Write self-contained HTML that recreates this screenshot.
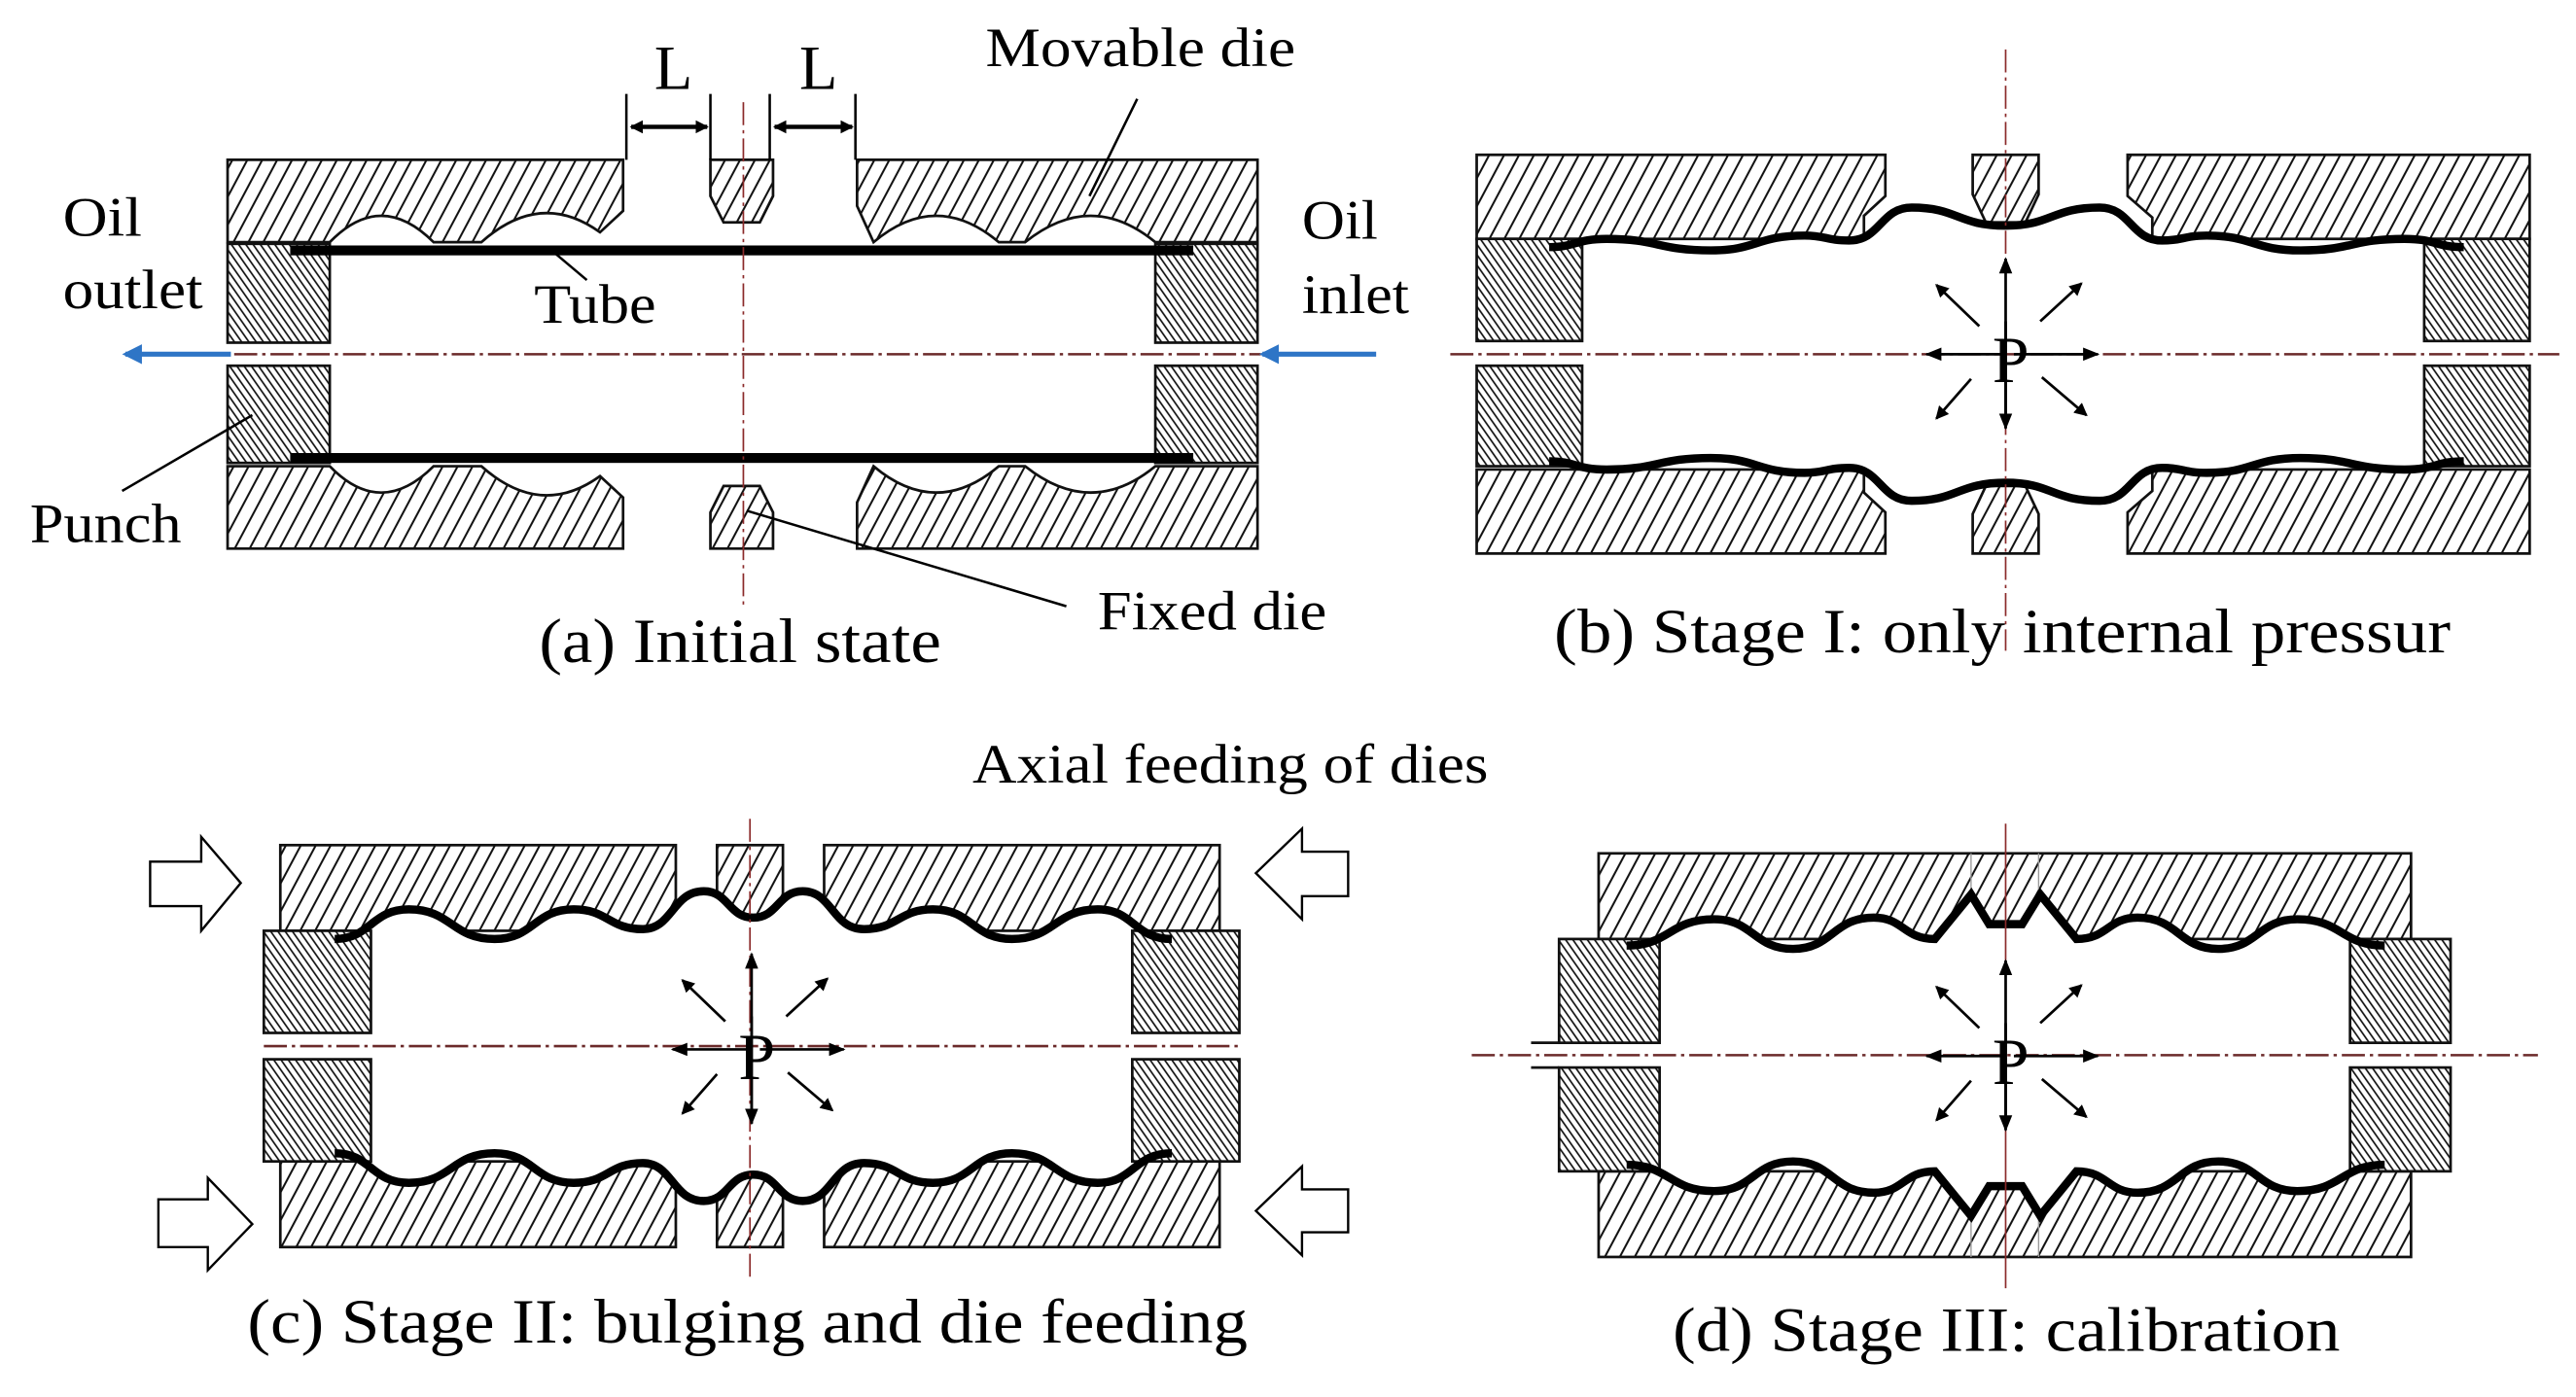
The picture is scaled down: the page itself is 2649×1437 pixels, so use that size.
<!DOCTYPE html>
<html><head><meta charset="utf-8"><style>html,body{margin:0;padding:0;background:#fff}svg{display:block}</style></head>
<body>
<svg width="2649" height="1437" viewBox="0 0 1563 848" xmlns="http://www.w3.org/2000/svg" font-family="Liberation Serif, serif">
<defs>
<pattern id="dh" width="8" height="8" patternUnits="userSpaceOnUse" patternTransform="rotate(28)"><rect width="8" height="8" fill="#fff"/><line x1="2" y1="0" x2="2" y2="8" stroke="#111" stroke-width="1.2"/></pattern>
<pattern id="ph" width="3.6" height="4" patternUnits="userSpaceOnUse" patternTransform="rotate(-35)"><rect width="4" height="4" fill="#fff"/><line x1="1" y1="0" x2="1" y2="4" stroke="#111" stroke-width="1"/></pattern>
<marker id="ah" markerWidth="8" markerHeight="8" refX="7" refY="4" orient="auto" markerUnits="userSpaceOnUse"><path d="M0,0 L8,4 L0,8 Z" fill="#000"/></marker>
<marker id="ahs" markerWidth="10" markerHeight="8" refX="9" refY="4" orient="auto" markerUnits="userSpaceOnUse"><path d="M0,0 L10,4 L0,8 Z" fill="#000"/></marker>
<marker id="ab" markerWidth="12" markerHeight="12" refX="10" refY="6" orient="auto" markerUnits="userSpaceOnUse"><path d="M0,0 L12,6 L0,12 Z" fill="#2e75c6"/></marker>
<g id="parr" stroke="#000" stroke-width="1.6" fill="none">
<line x1="0" y1="45" x2="0" y2="-58" marker-end="url(#ahs)"/>
<line x1="0" y1="-20" x2="0" y2="45" marker-end="url(#ahs)"/>
<line x1="0" y1="0" x2="-48" y2="0" marker-end="url(#ahs)"/>
<line x1="5" y1="0" x2="56" y2="0" marker-end="url(#ahs)"/>
<line x1="-16" y1="-17" x2="-42" y2="-42" marker-end="url(#ah)"/>
<line x1="21" y1="-20" x2="46" y2="-43" marker-end="url(#ah)"/>
<line x1="-21" y1="15" x2="-42" y2="39" marker-end="url(#ah)"/>
<line x1="22" y1="14" x2="49" y2="37" marker-end="url(#ah)"/>
</g>
<path id="btf" d="M937,150 C956,150 956,145 975,145 C1006,145 1006,152 1038,152 C1066,152 1066,143 1095,143 C1108,143 1108,146 1122,146 C1141,146 1141,126 1160,126 C1188,126 1188,137 1217,137 C1245,137 1245,126 1274,126 C1293,126 1293,146 1312,146 C1325,146 1325,143 1339,143 C1367,143 1367,152 1396,152 C1427,152 1427,145 1459,145 C1478,145 1478,150 1497,150 L1497,215 L937,215 Z" fill="#fff"/>
<path id="bts" d="M940,150 C956,150 956,145 975,145 C1006,145 1006,152 1038,152 C1066,152 1066,143 1095,143 C1108,143 1108,146 1122,146 C1141,146 1141,126 1160,126 C1188,126 1188,137 1217,137 C1245,137 1245,126 1274,126 C1293,126 1293,146 1312,146 C1325,146 1325,143 1339,143 C1367,143 1367,152 1396,152 C1427,152 1427,145 1459,145 C1478,145 1478,150 1495,150" fill="none" stroke="#000" stroke-width="5"/>
<path id="ctf" d="M203,570 C225,570 225,552 248,552 C274,552 274,570 300,570 C324,570 324,552 348,552 C369,552 369,564 390,564 C408,564 408,541 427,541 C442,541 442,557 457,557 C472,557 472,541 487,541 C505,541 505,564 524,564 C545,564 545,552 566,552 C590,552 590,570 614,570 C640,570 640,552 666,552 C688,552 688,570 711,570 L711,635 L203,635 Z" fill="#fff"/>
<path id="cts" d="M203,570 C225,570 225,552 248,552 C274,552 274,570 300,570 C324,570 324,552 348,552 C369,552 369,564 390,564 C408,564 408,541 427,541 C442,541 442,557 457,557 C472,557 472,541 487,541 C505,541 505,564 524,564 C545,564 545,552 566,552 C590,552 590,570 614,570 C640,570 640,552 666,552 C688,552 688,570 711,570" fill="none" stroke="#000" stroke-width="5"/>
<path id="dtf" d="M987,574 C1013,574 1013,558 1040,558 C1064,558 1064,576 1088,576 C1112,576 1112,557 1137,557 C1155,557 1155,570 1174,570 L1196,543 L1207,561 H1227 L1238,543 L1260,570 C1279,570 1279,557 1297,557 C1322,557 1322,576 1346,576 C1370,576 1370,558 1394,558 C1421,558 1421,574 1447,574 L1447,640 L987,640 Z" fill="#fff"/>
<path id="dts" d="M987,574 C1013,574 1013,558 1040,558 C1064,558 1064,576 1088,576 C1112,576 1112,557 1137,557 C1155,557 1155,570 1174,570 L1196,543 L1207,561 H1227 L1238,543 L1260,570 C1279,570 1279,557 1297,557 C1322,557 1322,576 1346,576 C1370,576 1370,558 1394,558 C1421,558 1421,574 1447,574" fill="none" stroke="#000" stroke-width="5"/>
</defs>
<rect width="1563" height="848" fill="#fff"/>

<!-- ============ (a) ============ -->
<g stroke="#111" stroke-width="1.6" fill="url(#dh)">
<path d="M138,97 H378 V128 L364,141 Q328,115 292,147 L263,147 Q231,115 200,147 H138 Z"/>
<path d="M520,97 H763 V147 H701 Q662,115 622,147 H606 Q568,115 530,147 L520,125 Z"/>
<path d="M431,97 H469 V119 L461,135 H439 L431,119 Z"/>
<path d="M138,333 H378 V302 L364,289 Q328,315 292,283 L263,283 Q231,315 200,283 H138 Z"/>
<path d="M520,333 H763 V283 H701 Q662,315 622,283 H606 Q568,315 530,283 L520,305 Z"/>
<path d="M431,333 H469 V311 L461,295 H439 L431,311 Z"/>
</g>
<g stroke="#111" stroke-width="1.6" fill="url(#ph)">
<rect x="138" y="148" width="62" height="60"/>
<rect x="138" y="222" width="62" height="59"/>
<rect x="701" y="148" width="62" height="60"/>
<rect x="701" y="222" width="62" height="59"/>
</g>
<rect x="176" y="149" width="548" height="6" fill="#000"/>
<rect x="176" y="275" width="548" height="6" fill="#000"/>
<line x1="120" y1="215" x2="765" y2="215" stroke="#6b2a2a" stroke-width="1.5" stroke-dasharray="14 3 2 3"/>
<line x1="451" y1="62" x2="451" y2="370" stroke="#8b2a2a" stroke-width="1" stroke-dasharray="14 3 2 3"/>
<g stroke="#000" stroke-width="1.5">
<line x1="380" y1="57" x2="380" y2="97"/><line x1="431" y1="57" x2="431" y2="97"/>
<line x1="467" y1="57" x2="467" y2="97"/><line x1="519" y1="57" x2="519" y2="97"/>
<line x1="383" y1="77" x2="429" y2="77" stroke-width="2.5" marker-end="url(#ah)"/>
<line x1="429" y1="77" x2="383" y2="77" stroke-width="2.5" marker-end="url(#ah)"/>
<line x1="470" y1="77" x2="517" y2="77" stroke-width="2.5" marker-end="url(#ah)"/>
<line x1="517" y1="77" x2="470" y2="77" stroke-width="2.5" marker-end="url(#ah)"/>
<line x1="690" y1="60" x2="661" y2="119"/>
<line x1="337" y1="154" x2="356" y2="170"/>
<line x1="74" y1="298" x2="153" y2="252"/>
<line x1="453" y1="310" x2="647" y2="368"/>
</g>
<line x1="140" y1="215" x2="76" y2="215" stroke="#2e75c6" stroke-width="3" marker-end="url(#ab)"/>
<line x1="835" y1="215" x2="766" y2="215" stroke="#2e75c6" stroke-width="3" marker-end="url(#ab)"/>
<g font-size="34" fill="#000">
<text x="397" y="54" font-size="38">L</text><text x="485" y="54" font-size="38">L</text>
<text x="598" y="40" textLength="188" lengthAdjust="spacingAndGlyphs">Movable die</text>
<text x="38" y="143" textLength="48" lengthAdjust="spacingAndGlyphs">Oil</text><text x="38" y="187" textLength="85" lengthAdjust="spacingAndGlyphs">outlet</text>
<text x="790" y="145" textLength="46" lengthAdjust="spacingAndGlyphs">Oil</text><text x="790" y="190" textLength="65" lengthAdjust="spacingAndGlyphs">inlet</text>
<text x="324" y="196" textLength="74" lengthAdjust="spacingAndGlyphs">Tube</text>
<text x="18" y="329" textLength="92" lengthAdjust="spacingAndGlyphs">Punch</text>
<text x="666" y="382" textLength="139" lengthAdjust="spacingAndGlyphs">Fixed die</text>
<text x="327" y="402" font-size="38" textLength="244" lengthAdjust="spacingAndGlyphs">(a) Initial state</text>
</g>

<!-- ============ (b) ============ -->
<g stroke="#111" stroke-width="1.6" fill="url(#dh)">
<path d="M896,94 H1144 V119 L1131,131 V145 H896 Z"/>
<path d="M1197,94 H1237 V118 L1229,135 H1205 L1197,118 Z"/>
<path d="M1291,94 H1535 V145 H1306 V132 L1291,119 Z"/>
<path d="M896,336 H1144 V311 L1131,299 V285 H896 Z"/>
<path d="M1197,336 H1237 V312 L1229,295 H1205 L1197,312 Z"/>
<path d="M1291,336 H1535 V285 H1306 V298 L1291,311 Z"/>
</g>
<use href="#btf"/>
<use href="#btf" transform="translate(0,430) scale(1,-1)"/>
<g stroke="#111" stroke-width="1.6" fill="url(#ph)">
<rect x="896" y="145" width="64" height="62"/>
<rect x="896" y="222" width="64" height="61"/>
<rect x="1471" y="145" width="64" height="62"/>
<rect x="1471" y="222" width="64" height="61"/>
</g>
<use href="#bts"/>
<use href="#bts" transform="translate(0,430) scale(1,-1)"/>
<line x1="880" y1="215" x2="1553" y2="215" stroke="#6b2a2a" stroke-width="1.5" stroke-dasharray="14 3 2 3"/>
<line x1="1217" y1="30" x2="1217" y2="395" stroke="#8b2a2a" stroke-width="1" stroke-dasharray="14 3 2 3"/>
<use href="#parr" transform="translate(1217,215)"/>
<text x="1209" y="232" font-size="40">P</text>
<text x="943" y="396" font-size="38" textLength="544" lengthAdjust="spacingAndGlyphs">(b) Stage I: only internal pressur</text>

<!-- ============ (c) ============ -->
<text x="590" y="475" font-size="34" textLength="313" lengthAdjust="spacingAndGlyphs">Axial feeding of dies</text>
<g stroke="#111" stroke-width="1.6" fill="url(#dh)">
<rect x="170" y="513" width="240" height="52"/>
<rect x="435" y="513" width="40" height="52"/>
<rect x="500" y="513" width="240" height="52"/>
<rect x="170" y="705" width="240" height="52"/>
<rect x="435" y="705" width="40" height="52"/>
<rect x="500" y="705" width="240" height="52"/>
</g>
<use href="#ctf"/>
<use href="#ctf" transform="translate(0,1270) scale(1,-1)"/>
<g stroke="#111" stroke-width="1.6" fill="url(#ph)">
<rect x="160" y="565" width="65" height="62"/>
<rect x="160" y="643" width="65" height="62"/>
<rect x="687" y="565" width="65" height="62"/>
<rect x="687" y="643" width="65" height="62"/>
</g>
<use href="#cts"/>
<use href="#cts" transform="translate(0,1270) scale(1,-1)"/>
<line x1="160" y1="635" x2="752" y2="635" stroke="#6b2a2a" stroke-width="1.5" stroke-dasharray="14 3 2 3"/>
<line x1="455" y1="497" x2="455" y2="778" stroke="#8b2a2a" stroke-width="1" stroke-dasharray="14 3 2 3"/>
<use href="#parr" transform="translate(456,637)"/>
<text x="448" y="655" font-size="40">P</text>
<g fill="#fff" stroke="#000" stroke-width="1.4">
<path d="M91,523 H122 V508 L146,536 L122,565 V550 H91 Z"/>
<path d="M96,728 H126 V715 L153,743 L126,771 V757 H96 Z"/>
<path d="M818,517 H790 V503 L762,530 L790,558 V544 H818 Z"/>
<path d="M818,722 H790 V708 L762,735 L790,762 V748 H818 Z"/>
</g>
<text x="150" y="815" font-size="38" textLength="607" lengthAdjust="spacingAndGlyphs">(c) Stage II: bulging and die feeding</text>

<!-- ============ (d) ============ -->
<g stroke="#111" stroke-width="1.6">
<rect x="970" y="518" width="493" height="52" fill="url(#dh)"/>
<rect x="970" y="711" width="493" height="52" fill="url(#dh)"/>
</g>
<line x1="1196" y1="518" x2="1196" y2="763" stroke="#999" stroke-width="0.8"/>
<line x1="1237" y1="518" x2="1237" y2="763" stroke="#999" stroke-width="0.8"/>
<use href="#dtf"/>
<use href="#dtf" transform="translate(0,1281) scale(1,-1)"/>
<g stroke="#111" stroke-width="1.6">
<rect x="946" y="570" width="61" height="63" fill="url(#ph)"/>
<rect x="946" y="648" width="61" height="63" fill="url(#ph)"/>
<rect x="1426" y="570" width="61" height="63" fill="url(#ph)"/>
<rect x="1426" y="648" width="61" height="63" fill="url(#ph)"/>
<line x1="929" y1="633" x2="946" y2="633"/><line x1="929" y1="648" x2="946" y2="648"/>
</g>
<use href="#dts"/>
<use href="#dts" transform="translate(0,1281) scale(1,-1)"/>
<line x1="893" y1="640.5" x2="1540" y2="640.5" stroke="#6b2a2a" stroke-width="1.5" stroke-dasharray="14 3 2 3"/>
<line x1="1217" y1="500" x2="1217" y2="782" stroke="#8b2a2a" stroke-width="1"/>
<use href="#parr" transform="translate(1217,641)"/>
<text x="1209" y="658" font-size="40">P</text>
<text x="1015" y="820" font-size="38" textLength="405" lengthAdjust="spacingAndGlyphs">(d) Stage III: calibration</text>
</svg>
</body></html>
